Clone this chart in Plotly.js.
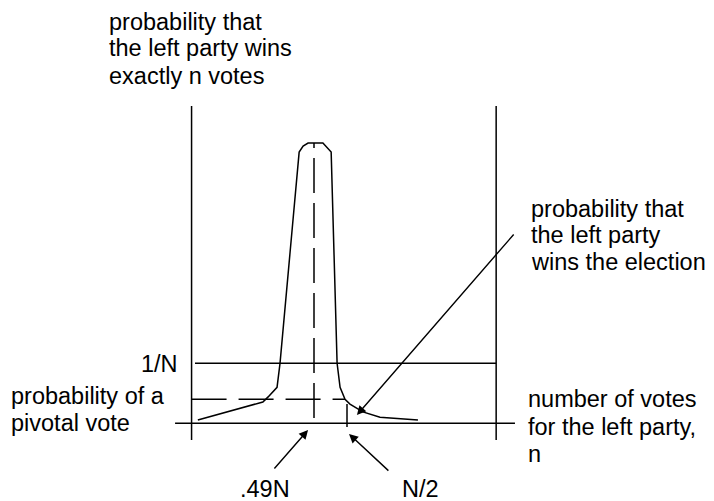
<!DOCTYPE html>
<html><head><meta charset="utf-8">
<script src="https://cdn.plot.ly/plotly-3.0.1.min.js"></script>
<style>html,body{margin:0;padding:0;background:#fff}#chart{width:714px;height:501px}</style>
</head><body><div id="chart"></div>
<script>
// Distribution of the left party's vote share (n/N) and its probability (in units of 1/N)
const voteShare   = [0.4548,0.4745,0.4761,0.4788,0.4797,0.4855,0.4867,0.4882,0.4927,0.4952,0.4970,0.4979,0.4994,0.5009,0.5048,0.5100,0.5215];
const probability = [0.055,0.355,0.44,0.60,1.00,4.52,4.62,4.67,4.67,4.52,1.00,0.60,0.40,0.32,0.19,0.10,0.055];

// reference values
const expectedShare = 0.49;   // .49N
const halfShare = 0.50;       // N/2
const oneOverN = 1;           // 1/N
const pivotalProb = 0.40;     // probability of a pivotal vote
const axisLeftShare = 0.4529, axisRightShare = 0.5452;
const baseFrom = 0.4479, baseTo = 0.5509;
const axisTop = 5.29, axisBottom = -0.28;

// text
const yTitleLines = ["probability that", "the left party wins", "exactly n votes"];
const winLines = ["probability that", "the left party", "wins the election"];
const xTitleLines = ["number of votes", "for the left party,", "n"];
const pivotLines = ["probability of a", "pivotal vote"];
const oneOverNLabel = "1/N";
const meanLabel = ".49N";
const halfLabel = "N/2";

// pixel helpers (for text placement only)
const X0 = 0.394848, X1 = 0.611212, Y0 = -1.295, Y1 = 7.055;
const px = p => X0 + (X1 - X0) * p / 714;
const py = q => Y1 - (Y1 - Y0) * q / 501;

const black = '#000';
const lw = 1.5;
const traces = [
  {x: voteShare, y: probability, mode: 'lines', line: {color: black, width: lw}},
  {x: [axisLeftShare, axisLeftShare], y: [axisTop, axisBottom], mode: 'lines', line: {color: black, width: lw}},
  {x: [axisRightShare, axisRightShare], y: [axisTop, axisBottom], mode: 'lines', line: {color: black, width: lw}},
  {x: [baseFrom, baseTo], y: [0, 0], mode: 'lines', line: {color: black, width: lw}},
  {x: [px(195), axisRightShare], y: [oneOverN, oneOverN], mode: 'lines', line: {color: black, width: lw}},
  {x: [axisLeftShare, voteShare[12]], y: [pivotalProb, pivotalProb], mode: 'lines', line: {color: black, width: lw, dash: '35px,12px'}},
  {x: [expectedShare, expectedShare], y: [0.09, probability[7]], mode: 'lines', line: {color: black, width: lw, dash: '35px,10px'}},
  {x: [halfShare, halfShare], y: [-0.06, 0.32], mode: 'lines', line: {color: black, width: lw}}
];

const font = {family: 'Liberation Sans, Arial, sans-serif', size: 23.5, color: black};
const ann = [];
function addLines(lines, xp, qs, anchor) {
  lines.forEach((t, i) => ann.push({x: px(xp), y: py(qs[i]), xref: 'x', yref: 'y', text: t, showarrow: false,
    xanchor: anchor || 'left', yanchor: 'middle', font: font, borderpad: 0}));
}
addLines(yTitleLines, 108, [22, 48, 76]);
addLines(winLines, 530, [209, 235, 262]);
addLines(xTitleLines, 527, [399, 427, 454]);
addLines(pivotLines, 10, [396, 423]);
addLines([oneOverNLabel], 179, [364], 'right');
addLines([meanLabel], 239, [489]);
addLines([halfLabel], 401, [489]);

function arrow(hx, hy, tx, ty) {
  ann.push({x: hx, y: hy, ax: tx, ay: ty, xref: 'x', yref: 'y', axref: 'x', ayref: 'y', text: '',
    showarrow: true, arrowhead: 2, arrowsize: 1.3, arrowwidth: 1.4, arrowcolor: black, standoff: 0});
}
arrow(0.5030, 0.138, 0.5509, 3.172);
arrow(0.4882, -0.112, 0.4776, -0.778);
arrow(0.5006, -0.178, 0.5130, -0.812);

Plotly.newPlot('chart', traces, {
  width: 714, height: 501, margin: {l: 0, r: 0, t: 0, b: 0},
  paper_bgcolor: '#fff', plot_bgcolor: '#fff', showlegend: false,
  xaxis: {range: [X0, X1], visible: false, fixedrange: true},
  yaxis: {range: [Y0, Y1], visible: false, fixedrange: true},
  annotations: ann
}, {staticPlot: true, displayModeBar: false});
</script></body></html>
